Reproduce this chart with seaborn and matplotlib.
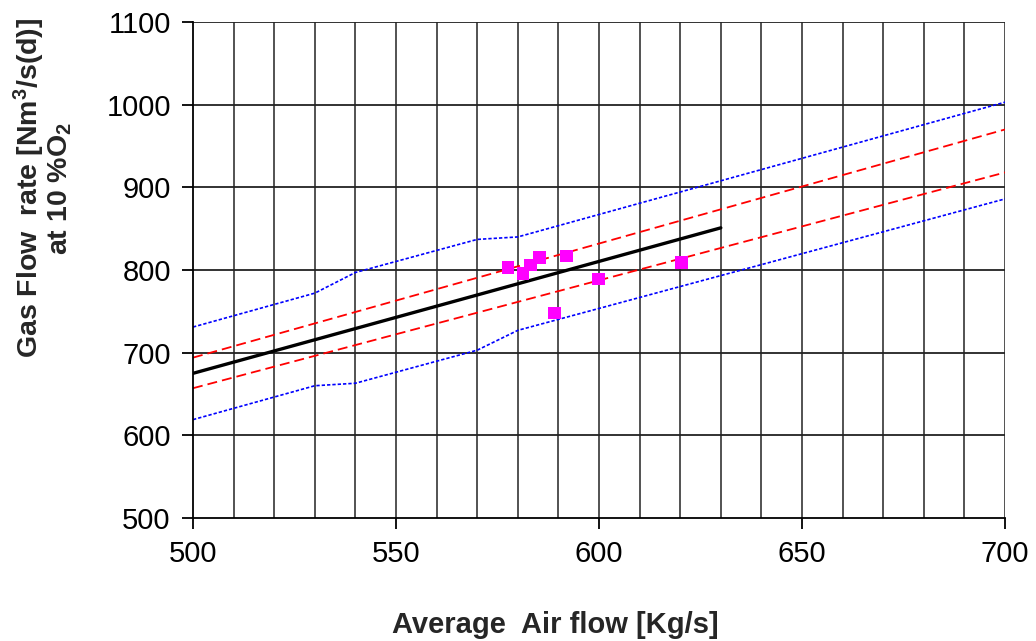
import numpy as np
import pandas as pd
import matplotlib
matplotlib.use('Agg')
import matplotlib.pyplot as plt
import seaborn as sns

# measured points
air_flow = [577.6, 581.3, 583.2, 585.3, 592.0, 599.8, 589.1, 620.4]
gas_flow = [803, 796, 806, 815, 817, 789, 748, 809]

# regression line
fit_x = [500, 630]
fit_y = [675, 851]

# confidence band (red dashed)
conf_x = [500, 700]
conf_hi = [694, 970]
conf_lo = [657, 918]

# prediction band (blue dotted)
pred_hi_x = [500, 530, 540, 570, 580, 700]
pred_hi_y = [731, 772, 797, 837, 840, 1003]
pred_lo_x = [500, 530, 540, 570, 580, 700]
pred_lo_y = [619, 660, 663, 703, 727, 886]

sns.set_style('white')
plt.rcParams['font.family'] = ['Liberation Sans', 'DejaVu Sans']
plt.rcParams['mathtext.fontset'] = 'custom'
plt.rcParams['mathtext.rm'] = 'Liberation Sans'
plt.rcParams['mathtext.bf'] = 'Liberation Sans:bold'
plt.rcParams['mathtext.default'] = 'bf'

fig = plt.figure(figsize=(10.36, 6.41), dpi=100)
ax = fig.add_axes([193/1036, 1 - 518/641, 812/1036, 496/641])

sns.lineplot(x=pred_hi_x, y=pred_hi_y, ax=ax, color='#0000ff', lw=1.2, linestyle=(0, (2, 1.2)))
sns.lineplot(x=pred_lo_x, y=pred_lo_y, ax=ax, color='#0000ff', lw=1.2, linestyle=(0, (2, 1.2)))
sns.lineplot(x=conf_x, y=conf_hi, ax=ax, color='#ff0000', lw=1.3, linestyle=(0, (5.5, 2.8)))
sns.lineplot(x=conf_x, y=conf_lo, ax=ax, color='#ff0000', lw=1.3, linestyle=(0, (5.5, 2.8)))
sns.lineplot(x=fit_x, y=fit_y, ax=ax, color='black', lw=2.4)
sns.scatterplot(x=air_flow, y=gas_flow, ax=ax, color='#ff00ff', marker='s', s=85,
                edgecolor='none', zorder=5)

ax.set_xlim(500, 700)
ax.set_ylim(500, 1100)
ax.set_xticks(np.arange(500, 701, 50))
ax.set_xticks(np.arange(500, 701, 10), minor=True)
ax.set_yticks(np.arange(500, 1101, 100))

for xv in np.arange(510, 701, 10):
    ax.axvline(xv, color='#444444', lw=1.3, zorder=0)
for yv in np.arange(600, 1101, 100):
    ax.axhline(yv, color='#222222', lw=1.3, zorder=0)

for s in ['top', 'right']:
    ax.spines[s].set_visible(False)
for s in ['left', 'bottom']:
    ax.spines[s].set_color('black')
    ax.spines[s].set_linewidth(1.3)

ax.tick_params(axis='both', which='major', direction='out', length=8, width=1.3,
               labelsize=21, colors='black', pad=8, left=True, bottom=True)
ax.tick_params(axis='x', which='minor', length=0)

fig.text(555 / 1036, 1 - 625 / 641, 'Average  Air flow [Kg/s]',
         ha='center', va='center', fontsize=21, fontweight='bold')
fig.text(43 / 1036, 1 - 188 / 641, 'Gas Flow  rate [Nm$^3$/s(d)]\nat 10 %O$_2$',
         ha='center', va='center', rotation=90, fontsize=20.5, fontweight='bold',
         multialignment='center', linespacing=1.0)

fig.savefig('out.png', dpi=100)
